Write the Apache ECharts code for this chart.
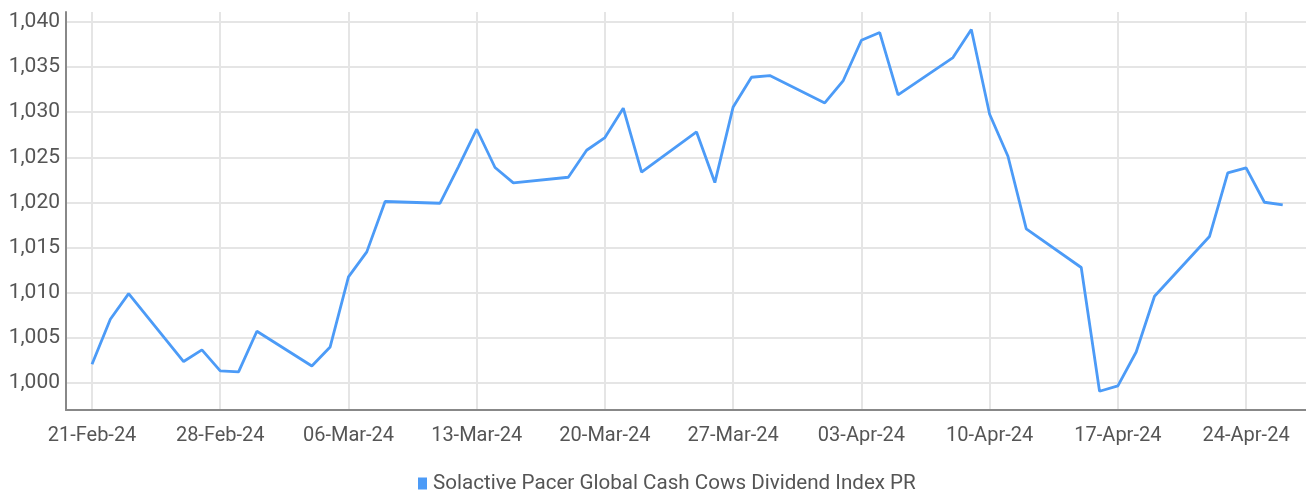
<!DOCTYPE html>
<html>
<head>
<meta charset="utf-8">
<script src="https://cdn.jsdelivr.net/npm/echarts@6/dist/echarts.min.js"></script>
<style>
  html, body { margin: 0; padding: 0; background: #fff; }
  #main { width: 1306px; height: 494px; }
</style>
</head>
<body>
<div id="main"></div>
<script type="text/javascript">
// index level, trading days only
var seriesName = 'Solactive Pacer Global Cash Cows Dividend Index PR';
var dates = [
  '2024-02-21', '2024-02-22', '2024-02-23', '2024-02-26', '2024-02-27', '2024-02-28', '2024-02-29', '2024-03-01',
  '2024-03-04', '2024-03-05', '2024-03-06', '2024-03-07', '2024-03-08', '2024-03-11', '2024-03-12', '2024-03-13',
  '2024-03-14', '2024-03-15', '2024-03-18', '2024-03-19', '2024-03-20', '2024-03-21', '2024-03-22', '2024-03-25',
  '2024-03-26', '2024-03-27', '2024-03-28', '2024-03-29', '2024-04-01', '2024-04-02', '2024-04-03', '2024-04-04',
  '2024-04-05', '2024-04-08', '2024-04-09', '2024-04-10', '2024-04-11', '2024-04-12', '2024-04-15', '2024-04-16',
  '2024-04-17', '2024-04-18', '2024-04-19', '2024-04-22', '2024-04-23', '2024-04-24', '2024-04-25', '2024-04-26'
];
var values = [
  1002.07, 1007.06, 1009.90, 1002.37, 1003.66, 1001.33, 1001.22, 1005.73,
  1001.88, 1003.99, 1011.75, 1014.52, 1020.10, 1019.91, 1023.94, 1028.11,
  1023.87, 1022.16, 1022.79, 1025.78, 1027.19, 1030.44, 1023.35, 1027.81,
  1022.20, 1030.58, 1033.87, 1034.06, 1031.03, 1033.46, 1037.97, 1038.82,
  1031.91, 1036.05, 1039.16, 1029.77, 1025.12, 1017.07, 1012.79, 999.08,
  999.67, 1003.43, 1009.61, 1016.22, 1023.27, 1023.82, 1020.02, 1019.72
];
var months = ['Jan', 'Feb', 'Mar', 'Apr', 'May', 'Jun', 'Jul', 'Aug', 'Sep', 'Oct', 'Nov', 'Dec'];

var DAY = 86400000;
var base = Date.UTC(2024, 1, 21);
function dayOffset(s) {
  var p = s.split('-');
  return (Date.UTC(+p[0], +p[1] - 1, +p[2]) - base) / DAY;
}
function fmtDate(off) {
  var d = new Date(base + Math.round(off) * DAY);
  var dd = d.getUTCDate();
  return (dd < 10 ? '0' + dd : dd) + '-' + months[d.getUTCMonth()] + '-' + String(d.getUTCFullYear()).slice(2);
}
var points = [];
for (var i = 0; i < dates.length; i++) {
  points.push([dayOffset(dates[i]), values[i]]);
}

var font = "Roboto, 'Liberation Sans', sans-serif";
var chart = echarts.init(document.getElementById('main'));
var option = {
  animation: false,
  grid: { left: 66, right: 0, top: 12, bottom: 84, containLabel: false },
  xAxis: {
    type: 'value',
    min: -1.42,
    max: 66.27,
    minInterval: 7,
    maxInterval: 7,
    axisLine: { show: true, onZero: false, lineStyle: { color: '#888', width: 2 } },
    axisTick: { show: false },
    axisLabel: {
      showMinLabel: false, showMaxLabel: false,
      color: '#555', fontFamily: font, fontSize: 20, margin: 16,
      formatter: function (v) { return fmtDate(v); }
    },
    splitLine: { show: true, showMinLine: false, showMaxLine: false, lineStyle: { color: '#e5e5e5', width: 2 } }
  },
  yAxis: {
    type: 'value',
    min: 997,
    max: 1041.1,
    minInterval: 5,
    maxInterval: 5,
    axisLine: { show: true, onZero: false, lineStyle: { color: '#888', width: 2 } },
    axisTick: { show: false },
    axisLabel: {
      showMinLabel: false, showMaxLabel: false,
      color: '#555', fontFamily: font, fontSize: 21, margin: 6,
      formatter: function (v) { return v.toLocaleString('en-US'); }
    },
    splitLine: { show: true, showMinLine: false, showMaxLine: false, lineStyle: { color: '#e5e5e5', width: 2 } }
  },
  legend: {
    data: [seriesName],
    left: 413,
    top: 468,
    icon: 'rect',
    itemWidth: 9,
    itemHeight: 12,
    itemGap: 6,
    textStyle: { color: '#555', fontFamily: font, fontSize: 20.6, padding: [0, 0, 0, 1] }
  },
  series: [{
    name: seriesName,
    type: 'line',
    data: points,
    symbol: 'none',
    lineStyle: { color: '#4C9BF7', width: 2.8 },
    itemStyle: { color: '#4C9BF7' }
  }]
};
chart.setOption(option);
</script>
</body>
</html>
